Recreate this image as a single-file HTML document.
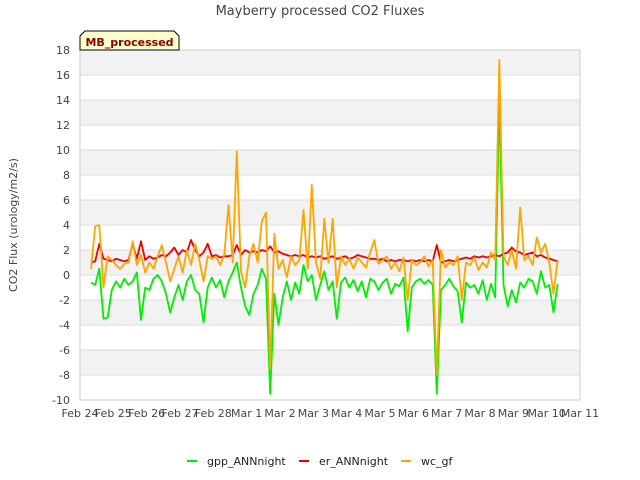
<!DOCTYPE html>
<html><head><meta charset="utf-8"><style>
body{margin:0;background:#fff;}
svg{display:block;font-family:"DejaVu Sans","Liberation Sans",sans-serif;}
</style></head><body>
<svg id="chart" width="640" height="480" viewBox="0 0 640 480">
<text x="320" y="15" text-anchor="middle" font-size="13" fill="#444">Mayberry processed CO2 Fluxes</text>
<g id="bands"></g><g id="grid"></g>
<rect x="80" y="50" width="500" height="350" fill="none" stroke="#ccc"/>
<g id="series"></g><g id="yticks"></g><g id="xticks"></g>
<text transform="translate(17,225) rotate(-90)" text-anchor="middle" font-size="11" fill="#444">CO2 Flux (urology/m2/s)</text>
<g>
<path d="M80,50 L80,36 L85,31 L174,31 L179,36 L179,50 Z" fill="#ffffcc" stroke="#000" stroke-width="1"/>
<text x="129.5" y="46" text-anchor="middle" font-size="11" font-weight="bold" fill="#8b0000">MB_processed</text>
</g>
<g id="legend"></g>
</svg>
<script>
const xLabels=["Feb 24","Feb 25","Feb 26","Feb 27","Feb 28","Mar 1","Mar 2","Mar 3","Mar 4","Mar 5","Mar 6","Mar 7","Mar 8","Mar 9","Mar 10","Mar 11"];
const yTicks=[18,16,14,12,10,8,6,4,2,0,-2,-4,-6,-8,-10];
const startDay=0.33, stepDay=0.125;
const gpp=[-0.6,-0.8,0.5,-3.5,-3.4,-1.2,-0.5,-1.0,-0.3,-0.8,
-0.5,0.2,-3.6,-1.0,-1.2,-0.3,0.0,-0.5,-1.5,-3.0,
-1.8,-0.8,-2.0,-0.5,0.0,-1.2,-1.5,-3.8,-1.0,-0.2,
-1.0,-0.4,-1.8,-0.5,0.2,1.0,-1.0,-2.5,-3.2,-1.5,
-0.8,0.5,-0.3,-9.5,-1.5,-4.0,-1.8,-0.5,-2.0,-0.6,
-1.5,0.8,-0.5,0.0,-2.0,-0.8,0.3,-1.2,-0.5,-3.5,
-0.6,-0.2,-1.0,-0.4,-1.3,-0.5,-1.8,-0.3,-0.5,-1.2,
-0.6,-0.3,-1.5,-0.7,-0.9,-0.2,-4.5,-1.0,-0.5,-0.3,
-0.7,-0.4,-0.8,-9.5,-1.2,-0.8,-0.3,-0.9,-1.3,-3.8,
-0.6,-1.0,-0.8,-1.5,-0.4,-2.0,-0.7,-1.8,14.0,-0.8,
-2.5,-1.2,-2.2,-0.6,-1.0,-0.3,-0.5,-1.5,0.3,-1.0,
-0.8,-3.0,-0.7];
const er=[1.0,1.1,2.5,1.3,1.2,1.1,1.3,1.2,1.1,1.2,
2.5,1.3,2.7,1.2,1.5,1.3,1.4,1.6,1.5,1.8,
2.2,1.6,2.0,1.8,2.8,2.0,1.5,1.8,2.5,1.5,
1.6,1.4,1.5,1.5,1.6,2.4,1.6,2.0,1.8,1.9,
1.8,2.0,1.9,2.3,1.8,1.9,1.7,1.6,1.5,1.6,
1.5,1.6,1.4,1.5,1.4,1.5,1.3,1.4,1.5,1.3,
1.4,1.5,1.3,1.4,1.6,1.5,1.4,1.3,1.3,1.2,
1.3,1.1,1.2,1.1,1.2,1.2,1.1,1.2,1.1,1.2,
1.1,1.2,1.1,2.4,1.0,1.1,1.2,1.1,1.2,1.3,
1.4,1.3,1.5,1.4,1.5,1.4,1.5,1.6,1.5,1.7,
1.8,2.2,1.9,1.8,1.6,1.7,1.8,1.5,1.6,1.4,
1.3,1.2,1.1];
const wc=[0.5,3.9,4.0,-1.0,1.5,1.2,0.8,0.5,0.9,1.0,
2.7,0.8,1.6,0.2,1.0,0.5,1.5,2.4,1.0,-0.5,
0.5,1.5,0.2,2.0,0.8,2.5,1.2,-0.5,1.5,1.3,
1.5,0.8,1.6,5.6,1.0,9.9,0.3,-1.0,1.5,2.5,
1.0,4.3,5.0,-7.5,3.3,0.5,1.2,-0.2,1.5,0.8,
1.2,5.2,0.5,7.2,1.0,-0.3,4.5,1.0,4.5,-1.0,
1.5,0.8,1.3,0.5,1.4,1.0,0.6,1.8,2.8,0.9,
1.2,1.5,0.5,1.0,0.3,1.4,-2.0,1.2,0.8,1.0,
1.5,0.7,1.2,-8.0,2.0,0.6,1.0,0.8,1.5,-2.0,
1.0,0.8,1.4,0.4,1.0,0.6,1.8,1.2,17.2,1.5,
0.8,2.0,0.5,5.4,1.2,1.5,0.8,3.0,1.8,2.5,
1.0,-1.5,1.2];
const NS="http://www.w3.org/2000/svg";
const L=80,R=580,T=50,B=400,yMin=-10,yMax=18,nDays=15;
const xs=d=>L+(R-L)*d/nDays;
const ys=v=>B-(B-T)*(v-yMin)/(yMax-yMin);
function mk(tag,attrs,parent){const e=document.createElementNS(NS,tag);for(const k in attrs)e.setAttribute(k,attrs[k]);parent.appendChild(e);return e;}
const bands=document.getElementById('bands'),grid=document.getElementById('grid');
for(let v=yMin;v<yMax;v+=2){
  if(((v-yMin)/2)%2===1){
    const r=mk('rect',{x:L,y:ys(v+2),width:R-L,height:ys(v)-ys(v+2),fill:'#f2f2f2'},bands);
    
    
  }
}
const yt=document.getElementById('yticks');
yTicks.forEach(v=>{
  const ln=mk('line',{x1:L,x2:R,y1:ys(v),y2:ys(v),stroke:'#ddd'},grid);
  
  
  const t=mk('text',{x:70,y:ys(v)+4,'text-anchor':'end','font-size':11,fill:'#444'},yt);
  t.textContent=v;
  
  
});
const xt=document.getElementById('xticks');
xLabels.forEach((lab,i)=>{
  const t=mk('text',{x:xs(i),y:417,'text-anchor':'middle','font-size':11,fill:'#444'},xt);
  t.textContent=lab;
  
  
});
const sg=document.getElementById('series');
function line(vals,color,name){
  const pts=vals.map((v,i)=>xs(startDay+i*stepDay).toFixed(1)+','+ys(v).toFixed(1)).join(' ');
  const p=mk('polyline',{points:pts,fill:'none',stroke:color,'stroke-width':1.8,'stroke-linejoin':'round'},sg);
  
  
}
line(gpp,'#00ee00','gpp-annnight-line');
line(er,'#ee0000','er-annnight-line');
line(wc,'#ffa500','wc-gf-line');
const lg=document.getElementById('legend');
[['gpp_ANNnight','#00ee00',187],['er_ANNnight','#ee0000',299],['wc_gf','#ffa500',401]].forEach(([n,c,x])=>{
  const g=mk('g',{},lg);
  
  
  mk('line',{x1:x,x2:x+10,y1:461,y2:461,stroke:c,'stroke-width':2},g);
  const t=mk('text',{x:x+20,y:465,'font-size':11,fill:'#222'},g);
  t.textContent=n;
});
</script>
</body></html>
